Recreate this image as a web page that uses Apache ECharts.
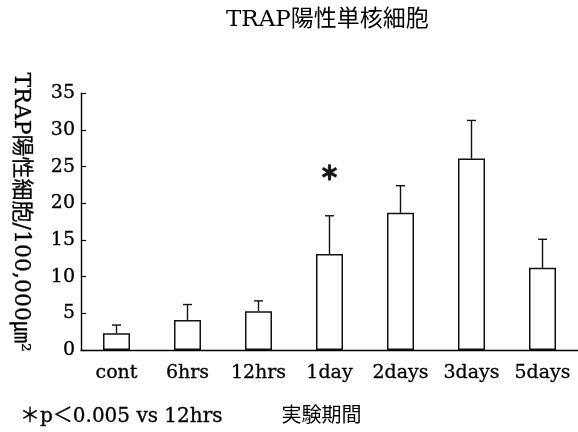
<!DOCTYPE html>
<html>
<head>
<meta charset="utf-8">
<script src="https://cdn.jsdelivr.net/npm/echarts@6/dist/echarts.min.js"></script>
<style>
html,body{margin:0;padding:0;background:#fff;}
#chart{width:578px;height:432px;}
</style>
</head>
<body>
<div id="chart"></div>
<script>
var categories = ['cont', '6hrs', '12hrs', '1day', '2days', '3days', '5days'];
var means = [2.3, 4.1, 5.3, 13.1, 18.7, 26.1, 11.2];
var errors = [1.1, 2.1, 1.4, 5.2, 3.7, 5.2, 3.9];
var starLevels = [null, null, null, 24.2, null, null, null];
var yTicks = [0, 5, 10, 15, 20, 25, 30, 35];

var titleText = 'TRAP陽性単核細胞';
var yName = 'TRAP陽性細胞/100,000㎛²';
var xName = '実験期間';
var footnote = '＊p＜0.005 vs 12hrs';

var FONT = '"DejaVu Serif", "Noto Sans CJK JP", serif';

var chart = echarts.init(document.getElementById('chart'), null, {renderer: 'canvas'});

var errData = means.map(function (m, i) { return [i, m, errors[i]]; });

chart.setOption({
  animation: false,
  backgroundColor: '#fff',
  title: [
    {
      text: titleText,
      left: 221, top: 4,
      textStyle: {fontFamily: FONT, fontSize: 23, fontWeight: 'normal', color: '#000'}
    },
    {
      text: footnote,
      left: 15, top: 402,
      textStyle: {fontFamily: FONT, fontSize: 20, fontWeight: 'normal', color: '#000',
        textBorderColor: '#000', textBorderWidth: 0.3}
    }
  ],
  grid: {left: 81, right: -2, top: 93.3, bottom: 82, containLabel: false},
  xAxis: {
    type: 'category',
    data: categories,
    name: xName,
    nameLocation: 'middle',
    nameGap: 57,
    nameTextStyle: {fontFamily: FONT, fontSize: 20, color: '#000', padding: [0, 16, 0, 0]},
    axisLine: {lineStyle: {color: '#000', width: 1.4}},
    axisTick: {inside: true, length: 6, lineStyle: {color: '#000', width: 1.2}},
    axisLabel: {interval: 0, fontFamily: FONT, fontSize: 19, color: '#000', margin: 14,
      textBorderColor: '#000', textBorderWidth: 0.3},
    splitLine: {show: false}
  },
  yAxis: {
    type: 'value',
    min: yTicks[0],
    max: yTicks[yTicks.length - 1],
    interval: 5,
    name: yName,
    nameLocation: 'middle',
    nameRotate: -90,
    nameGap: 49,
    nameTextStyle: {fontFamily: FONT, fontSize: 22, color: '#000', padding: [0, 19, 0, 0],
      textBorderColor: '#000', textBorderWidth: 0.3},
    axisLine: {show: true, lineStyle: {color: '#000', width: 1.4}},
    axisTick: {show: true, inside: true, length: 5, lineStyle: {color: '#000', width: 1.2}},
    axisLabel: {fontFamily: FONT, fontSize: 19, color: '#000', margin: 6,
      textBorderColor: '#000', textBorderWidth: 0.3},
    splitLine: {show: false}
  },
  series: [
    {
      type: 'bar',
      data: means,
      barWidth: 27,
      itemStyle: {color: '#fff', borderColor: '#111', borderWidth: 1.5},
      z: 2
    },
    {
      type: 'custom',
      data: errData,
      z: 3,
      renderItem: function (params, api) {
        var x = api.value(0);
        var m = api.value(1);
        var e = api.value(2);
        var p0 = api.coord([x, m]);
        var p1 = api.coord([x, m + e]);
        var cap = 4.5;
        return {
          type: 'group',
          children: [
            {type: 'line', shape: {x1: p0[0], y1: p0[1], x2: p1[0], y2: p1[1]}, style: {stroke: '#111', lineWidth: 1.4}},
            {type: 'line', shape: {x1: p1[0] - cap, y1: p1[1], x2: p1[0] + cap, y2: p1[1]}, style: {stroke: '#111', lineWidth: 1.4}}
          ]
        };
      }
    },
    {
      type: 'scatter',
      data: starLevels,
      symbolSize: 0,
      z: 4,
      label: {
        show: true,
        position: 'inside',
        formatter: '＊',
        fontFamily: '"Noto Sans CJK JP", sans-serif',
        fontSize: 19,
        fontWeight: 'bold',
        color: '#000',
        textBorderColor: '#000',
        textBorderWidth: 1.6
      }
    }
  ]
});
</script>
</body>
</html>
